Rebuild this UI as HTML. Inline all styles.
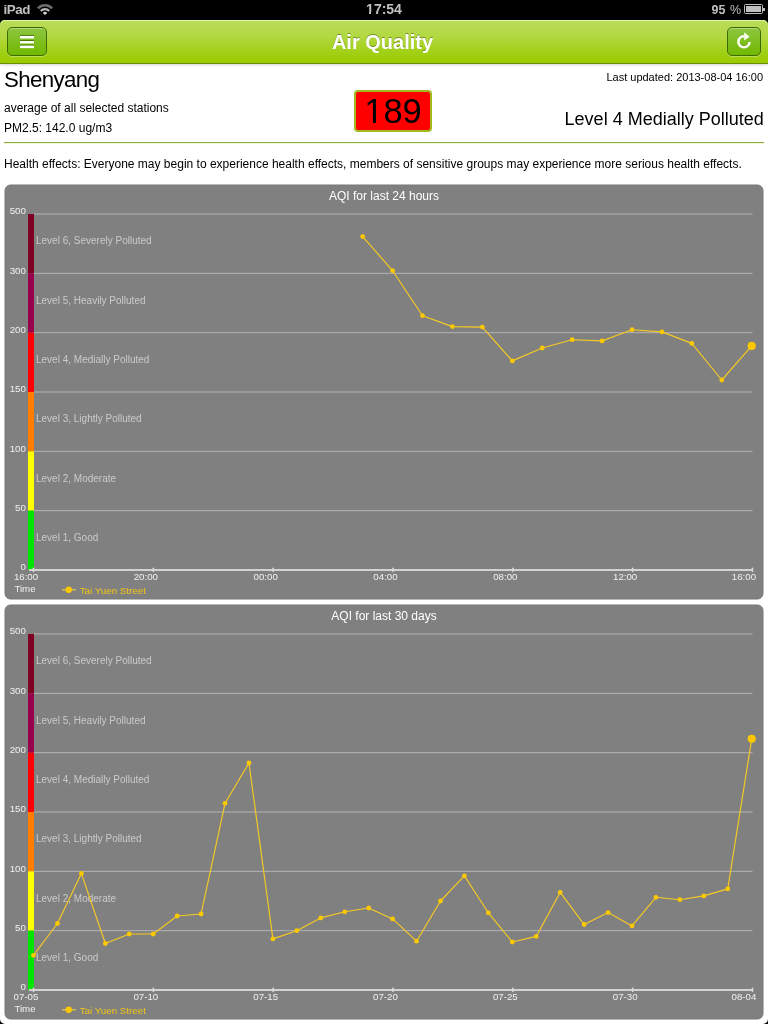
<!DOCTYPE html>
<html><head><meta charset="utf-8"><title>Air Quality</title>
<style>
* { margin:0; padding:0; box-sizing:border-box; }
html,body { width:768px; height:1024px; overflow:hidden; background:#fff; font-family:"Liberation Sans", sans-serif; position:relative; }
.abs { position:absolute; white-space:nowrap; }
#status { position:absolute; left:0; top:0; width:768px; height:26px; background:#000; color:#c0c0c0; font-weight:bold; font-size:14px; }
#hdr { position:absolute; left:0; top:20px; width:768px; height:44px; background:linear-gradient(#bbdb5b 0%,#b3d944 35%,#a2d016 75%,#99cb00 100%); border-bottom:1px solid #6a8c06; border-radius:5px 5px 0 0; box-shadow: inset 0 1px 0 #e2f89c, 0 1px 3px rgba(0,0,0,0.18); z-index:2; }
.btn { position:absolute; top:7px; height:29px; border:1px solid #3d6a04; border-radius:5px; background:linear-gradient(#8cc63f,#72b800); box-shadow: inset 0 1px 0 rgba(255,255,255,0.3), 0 1px 0 rgba(255,255,255,0.3); }
#title { position:absolute; left:-1.5px; top:0; width:768px; text-align:center; line-height:44px; font-size:20px; font-weight:bold; color:#fff; text-shadow:0 -1px 0 rgba(0,0,0,0.35); }
svg.ch { position:absolute; left:0; }
svg text { font-family:"Liberation Sans", sans-serif; }
.tt { font-size:12px; fill:#fff; }
.yl { font-size:9.8px; fill:#f0f0f0; }
.xl { font-size:9.7px; fill:#f0f0f0; }
.lv { font-size:10px; fill:#cacaca; }
.lg { font-size:9.8px; fill:#efc414; }
#root { position:absolute; left:0; top:0; width:768px; height:1024px; will-change:transform; }
</style></head><body>
<div id="root">
<div id="status">
  <div class="abs" style="left:3.6px;top:1.5px;font-size:13.4px;letter-spacing:-0.5px;">iPad</div>
  <svg class="abs" style="left:30px;top:0px" width="30" height="20" viewBox="30 0 30 20">
    <path d="M36.96,7.50 A11.0,11.0 0 0 1 53.04,7.50 L51.14,9.27 A8.4,8.4 0 0 0 38.86,9.27 Z" fill="#6c6c6c"/>
    <path d="M39.95,10.29 A6.9,6.9 0 0 1 50.05,10.29 L48.44,11.79 A4.7,4.7 0 0 0 41.56,11.79 Z" fill="#b4b4b4"/>
    <path d="M45.0,15.0 L42.81,12.95 A3.0,3.0 0 0 1 47.19,12.95 Z" fill="#d4d4d4"/>
  </svg>
  <div class="abs" style="left:0;top:1.3px;width:768px;text-align:center;">17:54</div>
  <div class="abs" style="left:366px;top:12px;width:3px;height:2px;background:#000;"></div>
  <div class="abs" style="left:371px;top:12px;width:3px;height:2px;background:#000;"></div>
  <div class="abs" style="left:711.5px;top:3.1px;font-size:12.5px;">95 <span style="font-weight:normal;margin-left:1px">%</span></div>
  <div class="abs" style="left:744px;top:4px;width:19px;height:10px;border:1px solid #c0c0c0;border-radius:1.5px;"><div style="position:absolute;left:1px;top:1px;width:15px;height:6px;background:#c0c0c0"></div></div>
  <div class="abs" style="left:763px;top:7.5px;width:2px;height:3.5px;background:#c0c0c0"></div>
</div>
<div id="hdr">
  <div id="title">Air Quality</div>
  <div class="btn" style="left:7px;width:40px;">
  </div>
  <div class="btn" style="left:727px;width:34px;">
  </div>
</div>
<svg class="abs" style="left:0;top:20px;z-index:3" width="60" height="44" viewBox="0 20 60 44">
  <rect x="20" y="34.9" width="14" height="1.1" fill="#3b6a00" fill-opacity="0.8"/>
  <rect x="20" y="35.95" width="14" height="2.5" fill="#fff"/>
  <rect x="20" y="39.95" width="14" height="1.1" fill="#3b6a00" fill-opacity="0.8"/>
  <rect x="20" y="41" width="14" height="2.45" fill="#fafff0"/>
  <rect x="20" y="44.6" width="14" height="1.1" fill="#3b6a00" fill-opacity="0.8"/>
  <rect x="20" y="45.65" width="14" height="2.5" fill="#fff"/>
</svg>
<svg class="abs" style="left:730px;top:28px;z-index:3" width="30" height="26" viewBox="730 28 30 26">
  <path d="M749.6 41.7 A5.6 5.6 0 1 1 744.3 36.1" fill="none" stroke="#2e5a00" stroke-opacity="0.35" stroke-width="2.6" transform="translate(0,-0.8)"/>
  <path d="M749.6 41.7 A5.6 5.6 0 1 1 744.3 36.1" fill="none" stroke="#fbfff0" stroke-width="2.6"/>
  <path d="M744.2 32.2 L749.6 36.7 L744.2 40.6 Z" fill="#fbfff0"/>
</svg>
<div class="abs" style="left:4px;top:67.1px;font-size:22.3px;letter-spacing:-0.65px;color:#000;">Shenyang</div>
<div class="abs" style="right:5px;top:70.9px;font-size:11px;color:#000;">Last updated: 2013-08-04 16:00</div>
<div class="abs" style="left:4px;top:101px;font-size:12px;color:#000;">average of all selected stations</div>
<div class="abs" style="left:4px;top:121px;font-size:12px;color:#000;">PM2.5: 142.0 ug/m3</div>
<div class="abs" style="left:354px;top:90px;width:78px;height:42px;background:#ff0000;border:2px solid #a3b91e;border-radius:4px;text-align:center;font-size:34.5px;line-height:38px;color:#000;">189</div>
<div class="abs" style="left:365.5px;top:119.6px;width:7.5px;height:3.8px;background:#ff0000;"></div>
<div class="abs" style="left:376px;top:119.6px;width:7.5px;height:3.8px;background:#ff0000;"></div>
<div class="abs" style="left:564.6px;top:108.5px;font-size:18px;color:#000;">Level 4 Medially Polluted</div>
<div class="abs" style="left:4px;top:142px;width:760px;height:1px;background:#8cab44;"></div>
<div class="abs" style="left:4px;top:143px;width:760px;height:1px;background:#f2f8d0;"></div>
<div class="abs" style="left:4px;top:157px;font-size:12px;color:#000;">Health effects: Everyone may begin to experience health effects, members of sensitive groups may experience more serious health effects.</div>
<svg class="ch" style="top:180px" width="768" height="424" viewBox="0 180 768 424">
<rect x="5" y="185" width="758" height="414" rx="5.5" ry="5.5" fill="#808080" stroke="#767676" stroke-width="1"/>
<text x="384" y="200" class="tt" text-anchor="middle">AQI for last 24 hours</text>
<rect x="28" y="214.00" width="6" height="59.33" fill="#7e0023"/>
<rect x="28" y="273.33" width="6" height="59.34" fill="#99004c"/>
<rect x="28" y="332.67" width="6" height="59.33" fill="#ff0000"/>
<rect x="28" y="392.00" width="6" height="59.33" fill="#ff7e00"/>
<rect x="28" y="451.33" width="6" height="59.34" fill="#ffff00"/>
<rect x="28" y="510.67" width="6" height="59.33" fill="#00e400"/>
<line x1="34" x2="752.5" y1="214.00" y2="214.00" stroke="#b4b4b4" stroke-width="1"/>
<line x1="34" x2="752.5" y1="273.33" y2="273.33" stroke="#b4b4b4" stroke-width="1"/>
<line x1="34" x2="752.5" y1="332.67" y2="332.67" stroke="#b4b4b4" stroke-width="1"/>
<line x1="34" x2="752.5" y1="392.00" y2="392.00" stroke="#b4b4b4" stroke-width="1"/>
<line x1="34" x2="752.5" y1="451.33" y2="451.33" stroke="#b4b4b4" stroke-width="1"/>
<line x1="34" x2="752.5" y1="510.67" y2="510.67" stroke="#b4b4b4" stroke-width="1"/>
<text x="26" y="214.30" class="yl" text-anchor="end">500</text>
<text x="26" y="273.63" class="yl" text-anchor="end">300</text>
<text x="26" y="332.97" class="yl" text-anchor="end">200</text>
<text x="26" y="392.30" class="yl" text-anchor="end">150</text>
<text x="26" y="451.63" class="yl" text-anchor="end">100</text>
<text x="26" y="510.97" class="yl" text-anchor="end">50</text>
<text x="26" y="570.30" class="yl" text-anchor="end">0</text>
<text x="36" y="244.26" class="lv">Level 6, Severely Polluted</text>
<text x="36" y="303.60" class="lv">Level 5, Heavily Polluted</text>
<text x="36" y="362.94" class="lv">Level 4, Medially Polluted</text>
<text x="36" y="422.26" class="lv">Level 3, Lightly Polluted</text>
<text x="36" y="481.60" class="lv">Level 2, Moderate</text>
<text x="36" y="540.94" class="lv">Level 1, Good</text>
<line x1="29" x2="753" y1="570" y2="570" stroke="#d2d2d2" stroke-width="2"/>
<line x1="33.50" x2="33.50" y1="568.3" y2="571.5" stroke="#dadada" stroke-width="1.5" stroke-linecap="round"/>
<line x1="153.33" x2="153.33" y1="568.3" y2="571.5" stroke="#dadada" stroke-width="1.5" stroke-linecap="round"/>
<line x1="273.16" x2="273.16" y1="568.3" y2="571.5" stroke="#dadada" stroke-width="1.5" stroke-linecap="round"/>
<line x1="392.99" x2="392.99" y1="568.3" y2="571.5" stroke="#dadada" stroke-width="1.5" stroke-linecap="round"/>
<line x1="512.82" x2="512.82" y1="568.3" y2="571.5" stroke="#dadada" stroke-width="1.5" stroke-linecap="round"/>
<line x1="632.65" x2="632.65" y1="568.3" y2="571.5" stroke="#dadada" stroke-width="1.5" stroke-linecap="round"/>
<line x1="752.48" x2="752.48" y1="568.3" y2="571.5" stroke="#dadada" stroke-width="1.5" stroke-linecap="round"/>
<text x="26.0" y="580" class="xl" text-anchor="middle">16:00</text>
<text x="145.82999999999998" y="580" class="xl" text-anchor="middle">20:00</text>
<text x="265.65999999999997" y="580" class="xl" text-anchor="middle">00:00</text>
<text x="385.49" y="580" class="xl" text-anchor="middle">04:00</text>
<text x="505.32" y="580" class="xl" text-anchor="middle">08:00</text>
<text x="625.15" y="580" class="xl" text-anchor="middle">12:00</text>
<text x="743.98" y="580" class="xl" text-anchor="middle">16:00</text>
<text x="14.4" y="592" class="xl">Time</text>
<line x1="62" x2="76" y1="589.8" y2="589.8" stroke="#e8cc50" stroke-width="1.2"/>
<circle cx="68.7" cy="589.8" r="3.2" fill="#fcc800"/>
<text x="79.7" y="593.5" class="lg">Tai Yuen Street</text>
<polyline points="362.68,236.6 392.60,270.7 422.53,315.7 452.45,326.6 482.38,327.1 512.30,360.9 542.23,348.0 572.15,339.7 602.08,340.9 632.00,329.7 661.93,331.9 691.85,343.4 721.77,380.0 751.70,345.9" fill="none" stroke="#f6ca22" stroke-width="1.15" stroke-linejoin="round"/>
<circle cx="362.68" cy="236.6" r="2.4" fill="#fcc800"/>
<circle cx="392.60" cy="270.7" r="2.4" fill="#fcc800"/>
<circle cx="422.53" cy="315.7" r="2.4" fill="#fcc800"/>
<circle cx="452.45" cy="326.6" r="2.4" fill="#fcc800"/>
<circle cx="482.38" cy="327.1" r="2.4" fill="#fcc800"/>
<circle cx="512.30" cy="360.9" r="2.4" fill="#fcc800"/>
<circle cx="542.23" cy="348.0" r="2.4" fill="#fcc800"/>
<circle cx="572.15" cy="339.7" r="2.4" fill="#fcc800"/>
<circle cx="602.08" cy="340.9" r="2.4" fill="#fcc800"/>
<circle cx="632.00" cy="329.7" r="2.4" fill="#fcc800"/>
<circle cx="661.93" cy="331.9" r="2.4" fill="#fcc800"/>
<circle cx="691.85" cy="343.4" r="2.4" fill="#fcc800"/>
<circle cx="721.77" cy="380.0" r="2.4" fill="#fcc800"/>
<circle cx="751.70" cy="345.9" r="4.1" fill="#fcc800"/>
</svg>
<svg class="ch" style="top:600px" width="768" height="424" viewBox="0 180 768 424">
<rect x="5" y="185" width="758" height="414" rx="5.5" ry="5.5" fill="#808080" stroke="#767676" stroke-width="1"/>
<text x="384" y="200" class="tt" text-anchor="middle">AQI for last 30 days</text>
<rect x="28" y="214.00" width="6" height="59.33" fill="#7e0023"/>
<rect x="28" y="273.33" width="6" height="59.34" fill="#99004c"/>
<rect x="28" y="332.67" width="6" height="59.33" fill="#ff0000"/>
<rect x="28" y="392.00" width="6" height="59.33" fill="#ff7e00"/>
<rect x="28" y="451.33" width="6" height="59.34" fill="#ffff00"/>
<rect x="28" y="510.67" width="6" height="59.33" fill="#00e400"/>
<line x1="34" x2="752.5" y1="214.00" y2="214.00" stroke="#b4b4b4" stroke-width="1"/>
<line x1="34" x2="752.5" y1="273.33" y2="273.33" stroke="#b4b4b4" stroke-width="1"/>
<line x1="34" x2="752.5" y1="332.67" y2="332.67" stroke="#b4b4b4" stroke-width="1"/>
<line x1="34" x2="752.5" y1="392.00" y2="392.00" stroke="#b4b4b4" stroke-width="1"/>
<line x1="34" x2="752.5" y1="451.33" y2="451.33" stroke="#b4b4b4" stroke-width="1"/>
<line x1="34" x2="752.5" y1="510.67" y2="510.67" stroke="#b4b4b4" stroke-width="1"/>
<text x="26" y="214.30" class="yl" text-anchor="end">500</text>
<text x="26" y="273.63" class="yl" text-anchor="end">300</text>
<text x="26" y="332.97" class="yl" text-anchor="end">200</text>
<text x="26" y="392.30" class="yl" text-anchor="end">150</text>
<text x="26" y="451.63" class="yl" text-anchor="end">100</text>
<text x="26" y="510.97" class="yl" text-anchor="end">50</text>
<text x="26" y="570.30" class="yl" text-anchor="end">0</text>
<text x="36" y="244.26" class="lv">Level 6, Severely Polluted</text>
<text x="36" y="303.60" class="lv">Level 5, Heavily Polluted</text>
<text x="36" y="362.94" class="lv">Level 4, Medially Polluted</text>
<text x="36" y="422.26" class="lv">Level 3, Lightly Polluted</text>
<text x="36" y="481.60" class="lv">Level 2, Moderate</text>
<text x="36" y="540.94" class="lv">Level 1, Good</text>
<line x1="29" x2="753" y1="570" y2="570" stroke="#d2d2d2" stroke-width="2"/>
<line x1="33.50" x2="33.50" y1="568.3" y2="571.5" stroke="#dadada" stroke-width="1.5" stroke-linecap="round"/>
<line x1="153.33" x2="153.33" y1="568.3" y2="571.5" stroke="#dadada" stroke-width="1.5" stroke-linecap="round"/>
<line x1="273.16" x2="273.16" y1="568.3" y2="571.5" stroke="#dadada" stroke-width="1.5" stroke-linecap="round"/>
<line x1="392.99" x2="392.99" y1="568.3" y2="571.5" stroke="#dadada" stroke-width="1.5" stroke-linecap="round"/>
<line x1="512.82" x2="512.82" y1="568.3" y2="571.5" stroke="#dadada" stroke-width="1.5" stroke-linecap="round"/>
<line x1="632.65" x2="632.65" y1="568.3" y2="571.5" stroke="#dadada" stroke-width="1.5" stroke-linecap="round"/>
<line x1="752.48" x2="752.48" y1="568.3" y2="571.5" stroke="#dadada" stroke-width="1.5" stroke-linecap="round"/>
<text x="26.0" y="580" class="xl" text-anchor="middle">07-05</text>
<text x="145.82999999999998" y="580" class="xl" text-anchor="middle">07-10</text>
<text x="265.65999999999997" y="580" class="xl" text-anchor="middle">07-15</text>
<text x="385.49" y="580" class="xl" text-anchor="middle">07-20</text>
<text x="505.32" y="580" class="xl" text-anchor="middle">07-25</text>
<text x="625.15" y="580" class="xl" text-anchor="middle">07-30</text>
<text x="743.98" y="580" class="xl" text-anchor="middle">08-04</text>
<text x="14.4" y="592" class="xl">Time</text>
<line x1="62" x2="76" y1="589.8" y2="589.8" stroke="#e8cc50" stroke-width="1.2"/>
<circle cx="68.7" cy="589.8" r="3.2" fill="#fcc800"/>
<text x="79.7" y="593.5" class="lg">Tai Yuen Street</text>
<polyline points="33.50,535.3 57.44,503.5 81.38,453.4 105.32,523.5 129.26,514.0 153.20,514.0 177.14,496.0 201.08,494.0 225.02,383.3 248.96,343.0 272.90,518.9 296.84,510.7 320.78,497.9 344.72,491.8 368.66,488.0 392.60,498.9 416.54,521.2 440.48,481.0 464.42,455.9 488.36,492.8 512.30,522.0 536.24,516.4 560.18,472.4 584.12,504.5 608.06,492.6 632.00,505.9 655.94,477.3 679.88,479.7 703.82,475.9 727.76,468.9 751.70,318.8" fill="none" stroke="#f6ca22" stroke-width="1.15" stroke-linejoin="round"/>
<circle cx="33.50" cy="535.3" r="2.4" fill="#fcc800"/>
<circle cx="57.44" cy="503.5" r="2.4" fill="#fcc800"/>
<circle cx="81.38" cy="453.4" r="2.4" fill="#fcc800"/>
<circle cx="105.32" cy="523.5" r="2.4" fill="#fcc800"/>
<circle cx="129.26" cy="514.0" r="2.4" fill="#fcc800"/>
<circle cx="153.20" cy="514.0" r="2.4" fill="#fcc800"/>
<circle cx="177.14" cy="496.0" r="2.4" fill="#fcc800"/>
<circle cx="201.08" cy="494.0" r="2.4" fill="#fcc800"/>
<circle cx="225.02" cy="383.3" r="2.4" fill="#fcc800"/>
<circle cx="248.96" cy="343.0" r="2.4" fill="#fcc800"/>
<circle cx="272.90" cy="518.9" r="2.4" fill="#fcc800"/>
<circle cx="296.84" cy="510.7" r="2.4" fill="#fcc800"/>
<circle cx="320.78" cy="497.9" r="2.4" fill="#fcc800"/>
<circle cx="344.72" cy="491.8" r="2.4" fill="#fcc800"/>
<circle cx="368.66" cy="488.0" r="2.4" fill="#fcc800"/>
<circle cx="392.60" cy="498.9" r="2.4" fill="#fcc800"/>
<circle cx="416.54" cy="521.2" r="2.4" fill="#fcc800"/>
<circle cx="440.48" cy="481.0" r="2.4" fill="#fcc800"/>
<circle cx="464.42" cy="455.9" r="2.4" fill="#fcc800"/>
<circle cx="488.36" cy="492.8" r="2.4" fill="#fcc800"/>
<circle cx="512.30" cy="522.0" r="2.4" fill="#fcc800"/>
<circle cx="536.24" cy="516.4" r="2.4" fill="#fcc800"/>
<circle cx="560.18" cy="472.4" r="2.4" fill="#fcc800"/>
<circle cx="584.12" cy="504.5" r="2.4" fill="#fcc800"/>
<circle cx="608.06" cy="492.6" r="2.4" fill="#fcc800"/>
<circle cx="632.00" cy="505.9" r="2.4" fill="#fcc800"/>
<circle cx="655.94" cy="477.3" r="2.4" fill="#fcc800"/>
<circle cx="679.88" cy="479.7" r="2.4" fill="#fcc800"/>
<circle cx="703.82" cy="475.9" r="2.4" fill="#fcc800"/>
<circle cx="727.76" cy="468.9" r="2.4" fill="#fcc800"/>
<circle cx="751.70" cy="318.8" r="4.1" fill="#fcc800"/>
</svg>
<svg class="abs" style="left:0;top:1019px" width="5" height="5" viewBox="0 0 5 5"><path d="M0 0 A5 5 0 0 0 5 5 L0 5 Z" fill="#000"/></svg>
<svg class="abs" style="left:763px;top:1019px" width="5" height="5" viewBox="0 0 5 5"><path d="M5 0 A5 5 0 0 1 0 5 L5 5 Z" fill="#000"/></svg>
</div>
</body></html>
